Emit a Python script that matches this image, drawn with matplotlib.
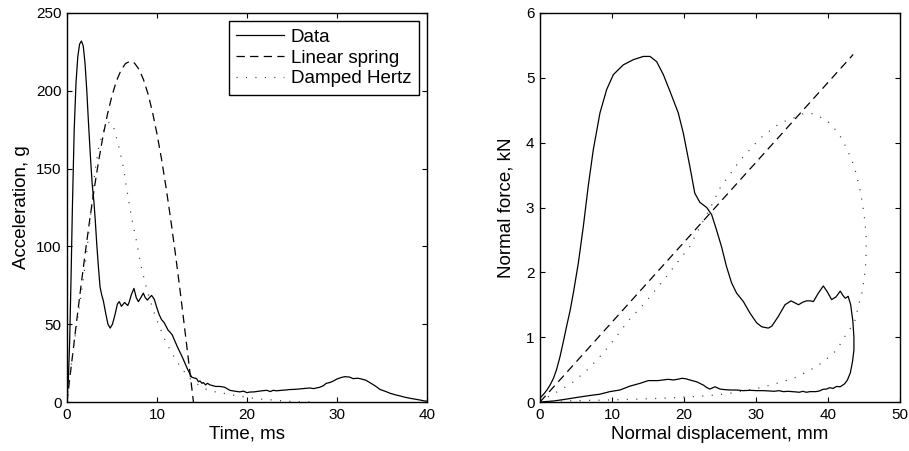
import matplotlib
matplotlib.use("Agg")
import matplotlib.pyplot as plt

plt.rcParams['font.family'] = ['Liberation Sans', 'DejaVu Sans']
plt.rcParams['lines.scale_dashes'] = False

# ---------------- Left panel: acceleration vs time ----------------
time_data = [0, 0.15, 0.3, 0.45, 0.6, 0.8, 1.0, 1.2, 1.4, 1.6, 1.8, 2.0, 2.2, 2.4, 2.6, 2.8,
             3.0, 3.15, 3.3, 3.5, 3.67, 3.85, 4.04, 4.3, 4.55, 4.8, 5.05, 5.33, 5.6, 5.8,
             6.05, 6.26, 6.4, 6.56, 6.75, 6.9, 7.15, 7.44, 7.7, 7.93, 8.2, 8.48, 8.7, 8.93,
             9.15, 9.4, 9.7, 9.96, 10.25, 10.5, 10.8, 11.07, 11.25, 11.44, 11.7, 12.0, 12.3,
             12.55, 12.8, 13.1, 13.4, 13.67, 13.85, 14.1, 14.4, 14.6, 14.78, 15.0, 15.15,
             15.4, 15.6, 15.9, 16.2, 16.5, 17.0, 17.5, 18.1, 18.6, 19.2, 19.6, 20.0, 20.3,
             20.8, 21.4, 21.8, 22.2, 22.6, 22.9, 23.3, 23.8, 24.3, 24.7, 25.2, 25.7, 26.2,
             26.6, 27.0, 27.4, 27.7, 28.1, 28.5, 28.8, 29.2, 29.6, 30.0, 30.5, 30.9, 31.4,
             31.8, 32.3, 32.7, 33.2, 33.7, 34.2, 34.8, 35.4, 35.9, 36.5, 37.0, 37.6, 38.1,
             38.7, 39.2, 39.6, 40.0]
accel_data = [3, 14, 40, 80, 125, 175, 205, 222, 230, 232, 229, 218, 200, 178, 158, 140,
              128, 116, 102, 86, 74, 69, 65, 57, 50, 47.5, 50, 56, 63, 64.5,
              61.5, 63, 64, 63, 62, 64, 69, 73, 67, 64.5, 67, 70, 67, 65.5,
              67, 68.5, 66, 61, 56, 53, 51, 48, 46, 45, 43, 39, 35,
              32, 29, 25, 21, 18, 16, 15.5, 15, 13, 13.5, 12, 12.5,
              11, 12, 11, 10.5, 10, 10, 9.5, 7.5, 7, 6.5, 7, 6, 6.4,
              6.5, 7, 7.3, 7.5, 6.7, 7.5, 7.2, 7.5, 7.7, 8, 8.1, 8.3, 8.6,
              8.8, 9, 8.6, 9, 9.5, 10.5, 12, 12.5, 13.5, 14.8, 15.8, 16.3, 16,
              15, 15.3, 14.8, 14, 12.3, 10.5, 8, 6.8, 5.6, 4.6, 3.9, 3, 2.4,
              1.8, 1.3, 0.8, 0.5]

time_spring = [0, 0.5, 1, 1.5, 2, 2.5, 3, 3.5, 4, 4.5, 5, 5.5, 6, 6.5, 7, 7.5, 8, 8.5, 9,
               9.5, 10, 10.5, 11, 11.5, 12, 12.5, 13, 13.5, 14.05]
accel_spring = [0, 24.4, 48.6, 72.1, 94.7, 116.1, 136.1, 154.4, 170.8, 185, 196.9, 206.4,
                213.2, 217.5, 219, 217.8, 213.8, 207.2, 198, 186.3, 172.3, 156.2, 138.1,
                118.3, 97.1, 74.6, 50.9, 26.8, 0]

time_hertz = [0, 0.3, 0.7, 1.07, 1.44, 1.81, 2.19, 2.5, 2.8, 3.1, 3.5, 4.0, 4.5, 4.8, 5.1,
              5.4, 5.8, 6.26, 6.8, 7.2, 7.67, 8.2, 8.7, 9.2, 9.7, 10.3, 10.8, 11.4, 12.0,
              12.56, 13.1, 13.67, 14.5, 15.5, 16.4, 17.4, 18.3, 19.2, 20.1, 21.1, 22.0,
              22.9, 24.0, 25.0, 26.0, 27.0]
accel_hertz = [0, 15, 34, 49, 64, 79, 96, 113, 131, 148, 163, 174, 179, 180, 178,
               172, 163, 151, 131, 118, 105, 88, 76, 66, 57, 48, 41, 34, 28,
               23, 19, 15, 11.5, 8.1, 6.6, 5.6, 4.5, 3.8, 2.9, 2.1, 1.6,
               1.3, 0.7, 0.35, 0.1, 0]

left_xticks = [0, 10, 20, 30, 40]
left_yticks = [0, 50, 100, 150, 200, 250]

# ---------------- Right panel: force vs displacement ----------------
disp_data = [0, 0.5, 1.0, 1.39, 1.85, 2.3, 2.78, 3.3, 3.7, 4.2, 4.63, 5.32, 6.02, 6.7,
             7.4, 8.33, 9.26, 10.19, 11.57, 12.96, 14.35, 15.28, 16.2, 17.13, 18.06, 19.2,
             19.9, 20.8, 21.5, 22.2, 23.15, 23.84, 24.5, 25.2, 25.9, 26.6, 27.3, 28.24,
             29.17, 30.1, 30.8, 31.7, 32.2, 33.1, 34.03, 34.86, 35.4, 35.9, 36.5, 37.0,
             37.5, 37.98, 38.66, 39.35, 39.9, 40.5, 41.1, 41.7, 42.1, 42.4, 42.8, 43.15,
             43.45, 43.6, 43.6, 43.4, 43.1, 42.7, 42.3, 41.7, 41.2, 40.7, 40.2, 39.8, 39.3,
             38.8, 38.3, 37.5, 37.0, 36.5, 36.0, 35.6, 35.0, 34.5, 33.8, 33.2, 32.5, 31.9,
             31.0, 30.1, 29.2, 28.2, 27.3, 26.4, 25.7, 25.0, 24.3, 23.6, 23.2, 22.7, 21.8,
             20.8, 20.2, 19.7, 19.1, 18.5, 17.8, 17.1, 16.4, 15.05, 13.9, 12.5, 11.1, 9.7,
             8.3, 6.9, 5.1, 3.7, 1.85, 0]
force_data = [0.06, 0.12, 0.19, 0.26, 0.36, 0.5, 0.7, 0.96, 1.17, 1.42, 1.68, 2.14,
              2.71, 3.33, 3.89, 4.46, 4.82, 5.05, 5.2, 5.28, 5.33, 5.33, 5.25, 5.05, 4.79,
              4.46, 4.15, 3.64, 3.22, 3.08, 3.0, 2.89, 2.66, 2.4, 2.09, 1.84, 1.68, 1.55,
              1.37, 1.22, 1.16, 1.14, 1.17, 1.32, 1.5, 1.56, 1.53, 1.5, 1.54, 1.56,
              1.56, 1.55, 1.68, 1.79, 1.7, 1.58, 1.62, 1.71, 1.64, 1.6, 1.63, 1.5,
              1.25, 1.0, 0.8, 0.62, 0.45, 0.34, 0.28, 0.235, 0.24, 0.21, 0.22, 0.2, 0.195,
              0.17, 0.16, 0.16, 0.15, 0.165, 0.15, 0.155, 0.16, 0.165, 0.16, 0.175, 0.165,
              0.17, 0.175, 0.175, 0.18, 0.175, 0.185, 0.185, 0.19, 0.2, 0.235, 0.2, 0.22,
              0.26, 0.31, 0.34, 0.36, 0.365, 0.35, 0.34, 0.35, 0.34, 0.33, 0.33, 0.288,
              0.245, 0.185, 0.16, 0.12, 0.1, 0.07, 0.045, 0.015, 0]

disp_spring = [0, 43.5]
force_spring = [0, 5.36]

disp_hertz = [0, 1.4, 2.78, 4.63, 6.5, 8.1, 9.7, 11.1, 12.3, 14.35, 17.6, 20.8, 22.3, 23.6,
              25.0, 27.8, 30.6, 33.3, 35.65, 36.6, 37.7, 38.7, 40.3, 41.6, 42.6, 43.3,
              43.9, 44.4, 44.8, 45.1, 45.3, 45.3, 45.2, 45.0, 44.7, 44.2, 43.75, 43.2,
              42.6, 41.2, 39.35, 37.5, 35.2, 32.9, 30.6, 28.2, 26.4, 24.5, 22.2, 18.5,
              13.9, 9.26, 4.6, 1.85, 0]
force_hertz = [0, 0.1, 0.18, 0.31, 0.49, 0.67, 0.88, 1.08, 1.26, 1.5, 1.94, 2.4, 2.72, 2.98,
               3.3, 3.73, 4.07, 4.3, 4.4, 4.45, 4.45, 4.41, 4.3, 4.12, 3.91, 3.73,
               3.53, 3.29, 3.06, 2.81, 2.55, 2.29, 2.09, 1.88, 1.68, 1.47, 1.26, 1.15,
               1.06, 0.8, 0.62, 0.49, 0.365, 0.288, 0.22, 0.17, 0.135, 0.108, 0.09, 0.065,
               0.045, 0.03, 0.02, 0.015, 0]

right_xticks = [0, 10, 20, 30, 40, 50]
right_yticks = [0, 1, 2, 3, 4, 5, 6]

legend_labels = ['Data', 'Linear spring', 'Damped Hertz']

# ---------------- Drawing ----------------
fig = plt.figure(figsize=(9.09, 4.51), dpi=100)
ax1 = fig.add_axes([67 / 909, 49 / 451, 360 / 909, 389 / 451])
ax2 = fig.add_axes([540 / 909, 49 / 451, 360 / 909, 389 / 451])

solid_kw = dict(color='black', lw=0.9, ls='-')
dash_kw = dict(color='black', lw=0.9, ls=(0, (6.0, 3.8)))
dot_kw = dict(color='0.25', lw=0.9, ls=(0, (0.8, 6.0)))

ax1.plot(time_data, accel_data, label=legend_labels[0], **solid_kw)
ax1.plot(time_spring, accel_spring, label=legend_labels[1], **dash_kw)
ax1.plot(time_hertz, accel_hertz, label=legend_labels[2], **dot_kw)
ax1.set_xlim(0, 40)
ax1.set_ylim(0, 250)
ax1.set_xticks(left_xticks)
ax1.set_yticks(left_yticks)
ax1.set_xlabel('Time, ms', fontsize=13.5, labelpad=3)
ax1.set_ylabel('Acceleration, g', fontsize=13.5, labelpad=4)

leg = ax1.legend(loc='upper right', fontsize=13.5, frameon=True, fancybox=False,
                 edgecolor='black', framealpha=1, borderpad=0.38, labelspacing=0.2,
                 handlelength=2.6, handletextpad=0.35, borderaxespad=0.45)
leg.get_frame().set_linewidth(1.0)

ax2.plot(disp_data, force_data, **solid_kw)
ax2.plot(disp_spring, force_spring, **dash_kw)
ax2.plot(disp_hertz, force_hertz, **dot_kw)
ax2.set_xlim(0, 50)
ax2.set_ylim(0, 6)
ax2.set_xticks(right_xticks)
ax2.set_yticks(right_yticks)
ax2.set_xlabel('Normal displacement, mm', fontsize=13.5, labelpad=3)
ax2.set_ylabel('Normal force, kN', fontsize=13.5, labelpad=8)

for ax in (ax1, ax2):
    ax.tick_params(direction='in', length=3.5, width=0.8, top=True, right=True,
                   labelsize=11, pad=4)
    for sp in ax.spines.values():
        sp.set_linewidth(1.0)

fig.savefig('out.png', dpi=100)
